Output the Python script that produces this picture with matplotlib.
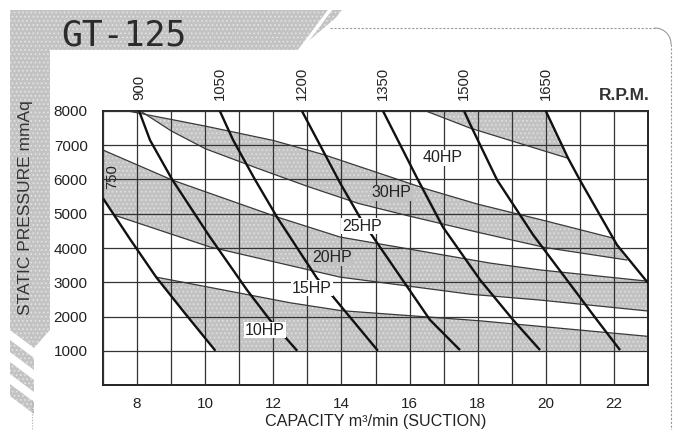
import matplotlib
matplotlib.use('Agg')
import matplotlib.pyplot as plt
from matplotlib.patches import Polygon
import numpy as np

plt.rcParams['font.family'] = ['Liberation Sans', 'DejaVu Sans']
plt.rcParams['hatch.linewidth'] = 0.7

# ---------------- data ----------------
title = 'GT-125'
x_ticks = [8, 10, 12, 14, 16, 18, 20, 22]
y_ticks = [1000, 2000, 3000, 4000, 5000, 6000, 7000, 8000]
x_range = (7, 23)
y_range = (0, 8000)

# RPM curves (capacity m3/min, static pressure mmAq)
rpm_labels = ['750', '900', '1050', '1200', '1350', '1500', '1650']
rpm_750_x = [7.0, 7.8, 8.56, 9.4, 10.3]
rpm_750_p = [5450, 4250, 3150, 2100, 1000]
rpm_900_x = [8.06, 8.38, 9.03, 10.12, 11.23, 11.9, 12.7]
rpm_900_p = [8000, 7150, 6000, 4350, 2770, 1900, 1000]
rpm_1050_x = [10.43, 10.82, 11.46, 12.11, 13.28, 13.66, 15.07]
rpm_1050_p = [8000, 7150, 6000, 4900, 3120, 2690, 1000]
rpm_1200_x = [12.84, 13.96, 14.55, 14.93, 16.6, 17.48]
rpm_1200_p = [8000, 5900, 4880, 4320, 1900, 1020]
rpm_1350_x = [15.22, 16.25, 16.98, 18.07, 19.04, 19.83]
rpm_1350_p = [8000, 5985, 4610, 3070, 1900, 1020]
rpm_1500_x = [17.6, 17.79, 18.57, 19.63, 21.5, 22.18]
rpm_1500_p = [8000, 7590, 5985, 4380, 1900, 1020]
rpm_1650_x = [20.0, 20.65, 21.0, 22.09, 23.0]
rpm_1650_p = [8000, 6630, 5985, 4090, 2980]

# shaded power bands: boundary curves
band30_upper_x = [7.73, 10.0, 12.0, 13.5, 15.0, 16.5, 18.0, 20.0, 21.97]
band30_upper_p = [8000, 7560, 7140, 6720, 6220, 5720, 5280, 4790, 4290]
band30_lower_x = [8.1, 9.0, 10.0, 11.5, 13.0, 14.5, 16.0, 18.0, 20.0, 22.38]
band30_lower_p = [8000, 7420, 6900, 6340, 5800, 5300, 4930, 4460, 4010, 3650]
band40_lower_x = [16.48, 17.78, 20.62]
band40_lower_p = [8000, 7500, 6630]
band20_upper_x = [7.0, 9.03, 12.11, 13.96, 18.36, 19.83, 23.0]
band20_upper_p = [6860, 5985, 4905, 4320, 3560, 3360, 3030]
band20_lower_x = [7.33, 10.14, 13.96, 17.78, 19.83, 23.0]
band20_lower_p = [4960, 4030, 3150, 2650, 2480, 2160]
band10_upper_x = [8.56, 12.5, 14.0, 18.0, 23.0]
band10_upper_p = [3150, 2400, 2170, 1880, 1420]
band10_floor_p = 1000

hp_labels = ['10HP', '15HP', '20HP', '25HP', '30HP', '40HP']
hp_x = [11.76, 13.14, 13.72, 14.6, 15.48, 16.98]
hp_p = [1605, 2830, 3710, 4640, 5606, 6630]
hp_on_band = [False, False, True, False, True, False]

label_750_xy = (7.26, 6100)

# ---------------- figure ----------------
W, H = 678, 430
fig = plt.figure(figsize=(W / 100, H / 100), dpi=100)
fig.patch.set_facecolor('white')

bg = fig.add_axes([0, 0, 1, 1])
bg.set_xlim(0, W)
bg.set_ylim(H, 0)
bg.axis('off')
bg.set_zorder(0)

HALF_FACE = '#c3c3c3'
HALF_HATCH = '#e4e4e4'

def halftone(poly, axx):
    p = Polygon(poly, closed=True, facecolor=HALF_FACE, edgecolor=HALF_HATCH,
                hatch='....', linewidth=0)
    axx.add_patch(p)

# decorative frame (top strip, left strip)
halftone([(10, 10), (345, 10), (298, 50), (50, 50), (50, 330), (34, 348), (10, 330)], bg)
for k in range(3):
    halftone([(10, 340 + k * 22), (34, 358 + k * 22), (34, 370 + k * 22), (10, 352 + k * 22)], bg)
for k in range(3):
    x0 = 300 + k * 14
    bg.plot([x0, x0 + 30], [50, 10], color='white', lw=2.5)
bg.plot([32, 32], [400, 430], color='#aaaaaa', lw=0.8, ls=(0, (1, 1.5)))
# panel border
bg.plot([330, 655], [28, 28], color='#9a9a9a', lw=0.8, ls=(0, (2, 1.5)))
t = np.linspace(-np.pi / 2, 0, 20)
bg.plot(655 + 16 * np.cos(t), 44 + 16 * np.sin(t), color='#9a9a9a', lw=0.8)
bg.plot([671, 671], [44, 430], color='#9a9a9a', lw=0.8, ls=(0, (2, 1.5)))

bg.text(61, 45, title, family='DejaVu Sans Mono', fontsize=25, color='#2b2b2b',
        va='baseline', ha='left')

# main axes
ax = fig.add_axes([103 / W, 1 - 385 / H, 545 / W, 274 / H])
ax.set_zorder(1)
ax.set_xlim(*x_range)
ax.set_ylim(*y_range)
ax.set_xticks(x_ticks)
ax.set_xticks(range(x_range[0], x_range[1] + 1), minor=True)
ax.set_yticks(y_ticks)
ax.set_yticks(range(y_range[0], y_range[1] + 1, 1000), minor=True)
ax.set_yticklabels([str(v) for v in y_ticks])
ax.tick_params(which='both', length=0, labelsize=11, colors='#222222')
ax.tick_params(axis='y', pad=11)
ax.tick_params(axis='x', pad=9)
ax.set_axisbelow(False)
ax.grid(which='both', color='#333333', lw=0.9)
for s in ax.spines.values():
    s.set_linewidth(1.4)
    s.set_color('#222222')

BAND_FACE = '#c2c2c2'
BAND_HATCH = '#e0e0e0'

def band(points):
    p = Polygon(points, closed=True, facecolor=BAND_FACE, edgecolor=BAND_HATCH,
                hatch='....', linewidth=0, zorder=1)
    ax.add_patch(p)

# band 30HP
band(list(zip(band30_upper_x, band30_upper_p)) + list(zip(band30_lower_x, band30_lower_p))[::-1])
# band 40HP (top right)
band(list(zip(band40_lower_x, band40_lower_p)) + [(rpm_1650_x[0], rpm_1650_p[0])])
# band 20HP
band(list(zip(band20_upper_x, band20_upper_p)) + list(zip(band20_lower_x, band20_lower_p))[::-1]
     + [(rpm_750_x[0], rpm_750_p[0])])
# band 10HP
band(list(zip(band10_upper_x, band10_upper_p)) + [(x_range[1], band10_floor_p)]
     + list(zip(rpm_750_x, rpm_750_p))[::-1][:2])

edge_kw = dict(color='#3a3a3a', lw=0.9, zorder=2)
for bx, bp in [(band30_upper_x, band30_upper_p), (band30_lower_x, band30_lower_p),
               (band40_lower_x, band40_lower_p), (band20_upper_x, band20_upper_p),
               (band20_lower_x, band20_lower_p), (band10_upper_x, band10_upper_p)]:
    ax.plot(bx, bp, **edge_kw)

rpm_curves = [(rpm_750_x, rpm_750_p), (rpm_900_x, rpm_900_p), (rpm_1050_x, rpm_1050_p),
              (rpm_1200_x, rpm_1200_p), (rpm_1350_x, rpm_1350_p), (rpm_1500_x, rpm_1500_p),
              (rpm_1650_x, rpm_1650_p)]
for (cx, cp) in rpm_curves:
    ax.plot(cx, cp, color='#111111', lw=1.7, zorder=3, solid_capstyle='butt',
            solid_joinstyle='round')

# rpm labels above the chart
for lbl, (cx, cp) in zip(rpm_labels[1:], rpm_curves[1:]):
    ax.annotate(lbl, xy=(cx[0], y_range[1]), xytext=(0, 8), textcoords='offset points',
                rotation=90, ha='center', va='bottom', fontsize=10.7, color='#222222',
                annotation_clip=False)
ax.text(*label_750_xy, rpm_labels[0], rotation=90, ha='center', va='center',
        fontsize=10.7, color='#222222', zorder=4)
ax.annotate('R.P.M.', xy=(x_range[1], y_range[1]), xytext=(1, 6), textcoords='offset points',
            ha='right', va='bottom', fontsize=12.5, fontweight='bold', color='#333333',
            annotation_clip=False)

for lbl, hx, hp, onb in zip(hp_labels, hp_x, hp_p, hp_on_band):
    ax.text(hx, hp, lbl, ha='center', va='center', fontsize=11.5, color='#222222', zorder=5,
            bbox=dict(boxstyle='square,pad=0.05', fc=BAND_FACE if onb else 'white', ec='none'))

ax.set_xlabel('CAPACITY m³/min (SUCTION)', fontsize=11.6, color='#222222', labelpad=2)
fig.text(26 / W, 1 - 208 / H, 'STATIC PRESSURE mmAq', rotation=90, ha='center', va='center',
         fontsize=12.5, color='#333333')

fig.savefig('out.png', dpi=100)
